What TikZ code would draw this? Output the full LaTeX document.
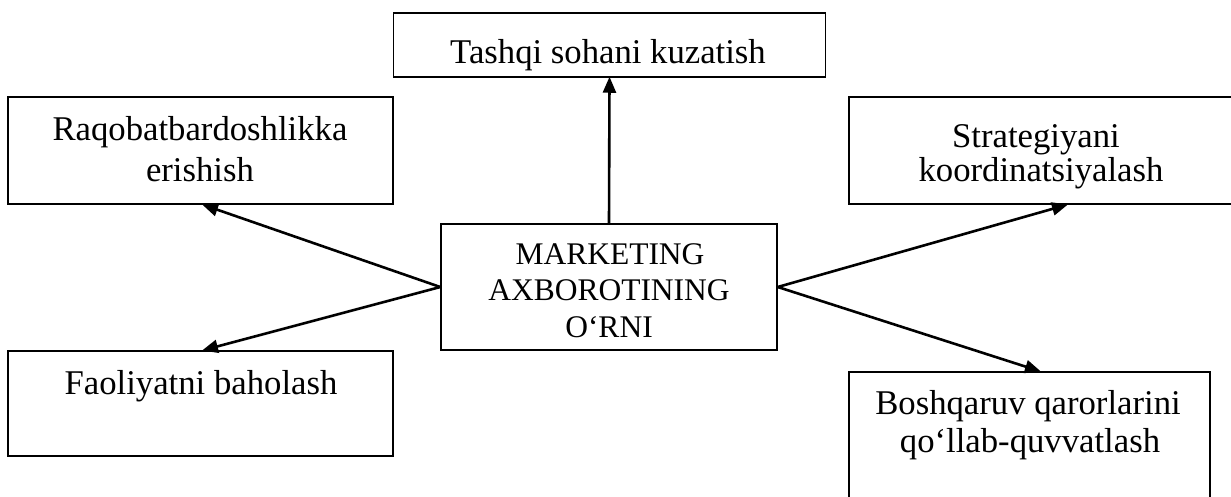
\documentclass[tikz,border=0pt]{standalone}
\usepackage{fontspec}
\setmainfont{Liberation Serif}
\usetikzlibrary{arrows.meta}
\begin{document}
\begin{tikzpicture}[x=1pt,y=-1pt,
  box/.style={draw=black, line width=1.5pt, rectangle, inner sep=0pt},
  lbl/.style={anchor=base, inner sep=0pt, font=\fontsize{34.7}{40}\selectfont},
  clbl/.style={anchor=base, inner sep=0pt, font=\fontsize{31.5}{36}\selectfont},
  arr/.style={line width=2.6pt, -{Triangle[length=16pt,width=13pt]}, shorten >=-1pt}]
\useasboundingbox (0,0) rectangle (1231,496);
\clip (0,0) rectangle (1231,496);

% boxes
\node[box, minimum width=432pt, minimum height=64pt]  (top) at (609.5,45) {};
\node[box, minimum width=385pt, minimum height=107pt] (tl)  at (200.5,150.5) {};
\node[box, minimum width=385pt, minimum height=107pt] (tr)  at (1041.5,150.5) {};
\node[box, minimum width=336pt, minimum height=126pt] (c)   at (609,287) {};
\node[box, minimum width=385pt, minimum height=105pt] (bl)  at (200.5,403.5) {};
\node[box, minimum width=361pt, minimum height=140pt] (br)  at (1029.5,442) {};

% texts
\node[lbl] (ttop)  at (608,63)  {Tashqi sohani kuzatish};
\node[lbl] (ttl1)  at (200,140) {Raqobatbardoshlikka};
\node[lbl] (ttl2)  at (200,181) {erishish};
\node[lbl] (ttr1)  at (1036,147) {Strategiyani};
\node[lbl] (ttr2)  at (1041,181) {koordinatsiyalash};
\node[clbl] (tc1)  at (610,264) {MARKETING};
\node[clbl] (tc2)  at (609,300) {AXBOROTINING};
\node[clbl] (tc3)  at (609,337) {O‘RNI};
\node[lbl] (tbl)   at (201,394) {Faoliyatni baholash};
\node[lbl] (tbr1)  at (1028,414) {Boshqaruv qarorlarini};
\node[lbl] (tbr2)  at (1030,452) {qo‘llab-quvvatlash};

% connectors
\draw[arr] (c.north) -- (top.south);
\draw[arr] (c.west) -- ([xshift=2.5pt]tl.south);
\draw[arr] (c.west) -- ([xshift=2.5pt]bl.north);
\draw[arr] (c.east) -- ([xshift=25.5pt]tr.south);
\draw[arr] (c.east) -- ([xshift=10.5pt]br.north);
\end{tikzpicture}
\end{document}
